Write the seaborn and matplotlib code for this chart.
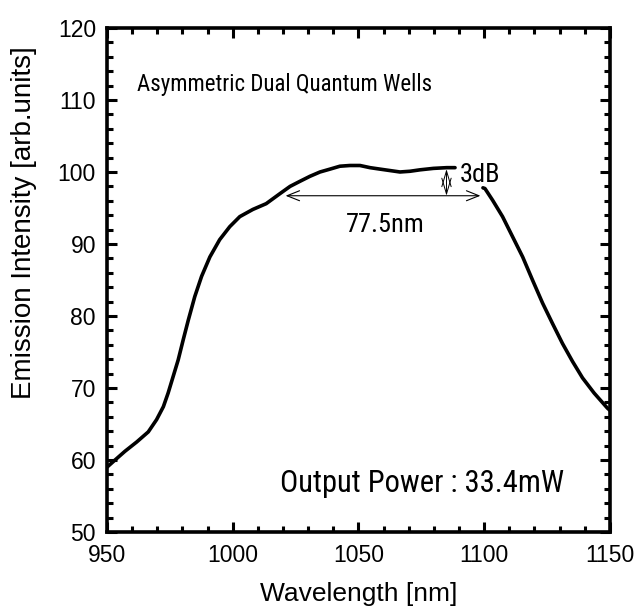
import matplotlib
matplotlib.use("Agg")
import matplotlib.pyplot as plt
from matplotlib import font_manager
from matplotlib.ticker import MultipleLocator
import pandas as pd
import seaborn as sns

# Emission spectrum, split where the 3dB label sits over the curve
wl_left = [950.0, 953.2, 957.1, 961.8, 966.4, 969.7, 972.4, 974.3, 976.3,
           978.3, 980.3, 982.3, 984.9, 987.6, 990.9, 994.8, 998.8, 1002.8,
           1008.0, 1013.3, 1018.8, 1022.8, 1026.7, 1030.7, 1034.7, 1038.7,
           1042.6, 1046.6, 1050.6, 1054.6, 1058.5, 1062.5, 1066.5, 1070.5,
           1074.5, 1079.8, 1085.1, 1088.4]
int_left = [59.0, 60.0, 61.2, 62.5, 63.9, 65.6, 67.4, 69.3, 71.6, 73.9, 76.7,
            79.4, 82.7, 85.5, 88.2, 90.6, 92.4, 93.8, 94.8, 95.6, 97.0, 98.0,
            98.7, 99.4, 100.0, 100.4, 100.8, 100.9, 100.9, 100.6, 100.4,
            100.2, 100.0, 100.1, 100.3, 100.5, 100.6, 100.6]
wl_right = [1099.5, 1100.3, 1103.3, 1107.3, 1111.3, 1115.3, 1119.2, 1123.2,
            1127.1, 1131.1, 1135.1, 1139.1, 1143.7, 1149.0, 1150.0]
int_right = [97.8, 97.7, 96.1, 93.8, 91.0, 88.2, 85.0, 81.8, 79.0, 76.2, 73.7,
             71.4, 69.3, 67.2, 66.9]

# bandwidth markers
fwhm_start, fwhm_end, fwhm_level = 1021.0, 1098.5, 96.7
db_x, db_top = 1085.0, 100.4

x_ticks = [950, 1000, 1050, 1100, 1150]
y_ticks = [50, 60, 70, 80, 90, 100, 110, 120]

df = pd.DataFrame({
    "wavelength": wl_left + wl_right,
    "intensity": int_left + int_right,
    "segment": ["a"] * len(wl_left) + ["b"] * len(wl_right),
})

sns.set_theme(style="ticks")
plt.rcParams["font.family"] = ["Liberation Sans", "DejaVu Sans"]

# pick a narrow face for the annotations when one is installed
names = {f.name for f in font_manager.fontManager.ttflist}
narrow, nscale = ["Liberation Sans", "DejaVu Sans"], 0.82
for cand in ["Roboto Condensed", "Liberation Sans Narrow", "Arial Narrow",
             "Open Sans Condensed", "Noto Sans Condensed"]:
    if cand in names:
        narrow, nscale = [cand, "DejaVu Sans"], 1.0
        break

fig = plt.figure(figsize=(6.39, 6.07), dpi=100)
ax = fig.add_axes([0.1675, 0.1236, 0.787, 0.8303])

sns.lineplot(data=df, x="wavelength", y="intensity", units="segment",
             estimator=None, color="black", linewidth=2.6, ax=ax, sort=False)

ax.set_xlim(950, 1150)
ax.set_ylim(50, 120)
ax.set_xticks(x_ticks)
ax.set_yticks(y_ticks)
ax.xaxis.set_minor_locator(MultipleLocator(10))
ax.yaxis.set_minor_locator(MultipleLocator(2))
ax.tick_params(which="both", direction="in", top=True, right=True,
               color="black", labelcolor="black")
ax.tick_params(which="major", length=7, width=2.2, labelsize=16.5)
ax.tick_params(which="minor", length=4.2, width=2.2)
ax.tick_params(axis="x", which="major", pad=9)
ax.tick_params(axis="y", which="major", pad=8)
for sp in ax.spines.values():
    sp.set_linewidth(2.6)
    sp.set_color("black")

ax.set_xlabel("Wavelength [nm]", fontsize=19, color="black")
ax.set_ylabel("Emission Intensity [arb.units]", fontsize=20, color="black")
ax.xaxis.set_label_coords(0.5, -0.1)
ax.yaxis.set_label_coords(-0.139, 0.613)

ax.text(961.9, 112.2, "Asymmetric Dual Quantum Wells", fontsize=16.5 * nscale,
        family=narrow, va="center", ha="left", color="black")
ax.text(1018.6, 56.7, "Output Power : 33.4mW", fontsize=22 * nscale,
        family=narrow, va="center", ha="left", color="black")
ax.text(1060.7, 92.7, "77.5nm", fontsize=19 * nscale,
        family=narrow, va="center", ha="center", color="black")
ax.text(1090.3, 99.6, "3dB", fontsize=19 * nscale,
        family=narrow, va="center", ha="left", color="black")

ax.annotate("", xy=(fwhm_end, fwhm_level), xytext=(fwhm_start, fwhm_level),
            arrowprops=dict(arrowstyle="<->,head_length=0.75,head_width=0.3",
                            color="black", lw=0.8, shrinkA=0, shrinkB=0))
ax.annotate("", xy=(db_x, db_top), xytext=(db_x, fwhm_level),
            arrowprops=dict(arrowstyle="<->,head_length=0.95,head_width=0.28",
                            color="black", lw=0.7, shrinkA=0, shrinkB=0))

fig.savefig("out.png", dpi=100)
